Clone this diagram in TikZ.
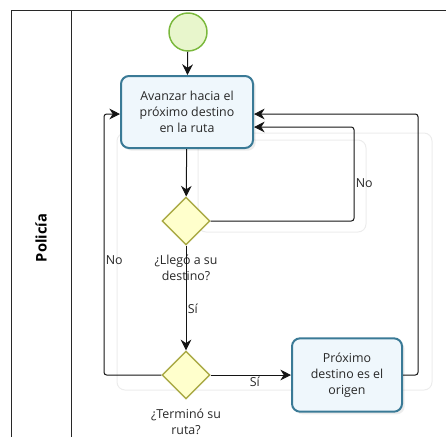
\documentclass[tikz,border=0pt]{standalone}
\usepackage{fontspec}
\setmainfont{Open Sans}
\usetikzlibrary{shapes.geometric,arrows.meta,positioning,shadows}

\tikzset{every picture/.style={line width=0.75pt}}
\tikzset{
	flecha/.style={-{Stealth[length=8pt,width=8pt]}, rounded corners=2pt, draw={rgb, 255:red, 20; green, 20; blue, 20 }},
	tarea/.style={draw={rgb, 255:red, 58; green, 122; blue, 150 }, line width=1.5pt, fill={rgb, 255:red, 239; green, 247; blue, 252 }, rounded corners=6pt, align=center, minimum width=99pt, minimum height=54pt, inner sep=1pt, font=\fontsize{9.3}{11.8}\selectfont, text={rgb, 255:red, 40; green, 40; blue, 40 }, drop shadow={opacity=0.15, shadow xshift=2pt, shadow yshift=-2pt}},
	decision/.style={diamond, draw={rgb, 255:red, 170; green, 170; blue, 70 }, line width=1.1pt, fill={rgb, 255:red, 255; green, 255; blue, 204 }, minimum width=36pt, minimum height=36pt, inner sep=0pt},
	inicio/.style={circle, draw={rgb, 255:red, 122; green, 184; blue, 60 }, line width=1.1pt, fill={rgb, 255:red, 232; green, 246; blue, 204 }, minimum size=28.5pt, inner sep=0pt},
	etiqueta/.style={align=center, font=\fontsize{9.3}{11.8}\selectfont, text={rgb, 255:red, 40; green, 40; blue, 40 }, inner sep=1pt},
	fantasma/.style={draw={rgb, 255:red, 236; green, 236; blue, 236 }, rounded corners=6pt}
}

\begin{document}
\begin{tikzpicture}[x=0.75pt,y=0.75pt,yscale=-1,xscale=1]
	\useasboundingbox (0,0) rectangle (446,437);

	%Shape: Lane
	\draw [draw={rgb, 255:red, 40; green, 40; blue, 40 }] (446,10) -- (11,10) -- (11,437) ;
	\draw [draw={rgb, 255:red, 40; green, 40; blue, 40 }] (71,10) -- (71,437) ;
	% Text Node
	\node [rotate=90, font=\fontsize{11}{13}\selectfont\bfseries] (carril) at (41,238) {Policía};

	%Ghost lines
	\draw [fantasma] (117,133) rectangle (432,390) ;
	\draw [fantasma] (198,140) rectangle (366,232) ;

	%Shapes
	\node [inicio] (inicio) at (188,32) {};
	\node [tarea] (avanzar) at (187,112) {Avanzar hacia el\\próximo destino\\en la ruta};
	\node [decision] (llego) at (186,221) {};
	\node [decision] (termino) at (186,375) {};
	\node [tarea, minimum width=82.5pt, minimum height=55pt] (proximo) at (347,375) {Próximo\\destino es el\\origen};

	% Text Node
	\node [etiqueta] (llegotxt) at (186,268) {¿Llegó a su\\destino?};
	% Text Node
	\node [etiqueta] (terminotxt) at (186,422) {¿Terminó su\\ruta?};

	%Corners
	\coordinate (vueltaNo) at (354,127);
	\coordinate (vueltaSi) at (418,114);
	\coordinate (vueltaTer) at (104,114);

	%Straight Lines
	\draw [flecha] (inicio) -- (avanzar) ;
	\draw [flecha] (avanzar) -- (llego) ;
	\draw [flecha] (llego) -- node [etiqueta, right, pos=0.6] {Sí} (termino) ;
	\draw [flecha] (termino) -- node [etiqueta, below, pos=0.55] {Sí} (proximo) ;
	\draw [flecha] (llego.east) -| node [etiqueta, right, pos=0.7] {No} (vueltaNo) -- (vueltaNo -| avanzar.east) ;
	\draw [flecha] (proximo.east) -| (vueltaSi) -- (vueltaSi -| avanzar.east) ;
	\draw [flecha] (termino.west) -| node [etiqueta, right, pos=0.72] {No} (vueltaTer) -- (vueltaTer -| avanzar.west) ;

\end{tikzpicture}
\end{document}
